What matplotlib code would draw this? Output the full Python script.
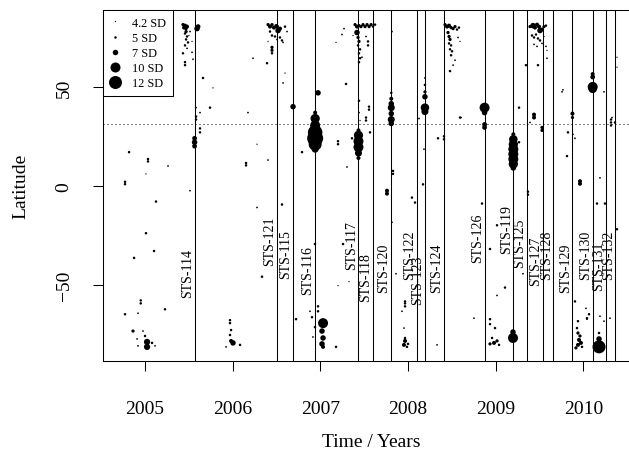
import numpy as np
import matplotlib
matplotlib.use("Agg")
import matplotlib.pyplot as plt
from matplotlib.lines import Line2D

plt.rcParams['font.family'] = ['Liberation Serif', 'DejaVu Serif']

# Shuttle launches (decimal years) and latitude where each label starts
launch_names = ["STS-114", "STS-121", "STS-115", "STS-116", "STS-117", "STS-118",
                "STS-120", "STS-122", "STS-123", "STS-124", "STS-126", "STS-119",
                "STS-125", "STS-127", "STS-128", "STS-129", "STS-130", "STS-131",
                "STS-132"]
launch_years = [2005.565, 2006.505, 2006.688, 2006.940, 2007.434, 2007.601,
                2007.808, 2008.102, 2008.192, 2008.413, 2008.872, 2009.200,
                2009.356, 2009.534, 2009.658, 2009.874, 2010.105, 2010.258,
                2010.365]
label_lat = [-56.5, -40, -46.5, -55, -42, -58.5, -53.5, -47, -60, -54, -38.5,
             -34, -41, -50, -47, -53.5, -47, -52.5, -47]

threshold_lat = 31.3

# Detections in the northern high-latitude clusters: (year, latitude, SD)
north = [
    (2005.433, 81.5, 5.5), (2005.445, 80.0, 6), (2005.456, 81.0, 6), (2005.468, 79.5, 5.5),
    (2005.479, 80.5, 6), (2005.468, 78.0, 5.5), (2005.456, 77.0, 5), (2005.479, 75.5, 5),
    (2005.468, 74.0, 5), (2005.490, 72.5, 5), (2005.456, 71.0, 5), (2005.479, 69.5, 4.5),
    (2005.433, 67.0, 5), (2005.536, 67.5, 4.5), (2005.456, 62.5, 5), (2005.456, 61.0, 5),
    (2005.547, 64.0, 4.5), (2005.593, 79.5, 7), (2005.605, 80.5, 6.5), (2005.513, 78.0, 4.5),
    (2005.500, 76.0, 4.2), (2005.536, 73.0, 4.2),
    (2006.403, 81.5, 5.5), (2006.425, 80.5, 6), (2006.448, 81.5, 5.5), (2006.470, 80.0, 6),
    (2006.494, 81.0, 5.5), (2006.517, 78.5, 7), (2006.505, 80.5, 6), (2006.539, 79.5, 6),
    (2006.425, 78.0, 5), (2006.448, 76.0, 5), (2006.482, 75.5, 5), (2006.539, 75.0, 5),
    (2006.562, 73.5, 5), (2006.574, 72.5, 4.5), (2006.448, 70.0, 5.5), (2006.448, 68.5, 5.5),
    (2006.448, 67.0, 5), (2006.596, 80.5, 5), (2006.619, 78.0, 4.5), (2006.505, 74.0, 4.5),
    (2006.403, 73.0, 4.2), (2006.596, 57.0, 4.2),
    (2007.395, 81.5, 5.5), (2007.417, 80.5, 6), (2007.440, 81.0, 5.5), (2007.463, 80.5, 5.5),
    (2007.486, 81.5, 5.5), (2007.509, 80.5, 5.5), (2007.532, 81.5, 5.5), (2007.555, 80.5, 5.5),
    (2007.578, 81.5, 5.5), (2007.600, 80.5, 5), (2007.623, 81.5, 5), (2007.417, 77.5, 7),
    (2007.429, 75.0, 5.5), (2007.440, 73.0, 5.5), (2007.429, 71.0, 5), (2007.452, 69.0, 5),
    (2007.440, 67.0, 5), (2007.452, 64.5, 5), (2007.440, 62.5, 5), (2007.543, 73.0, 5),
    (2007.543, 71.0, 5), (2007.520, 75.5, 4.5), (2007.474, 65.0, 4.5), (2007.372, 76.0, 4.2),
    (2008.421, 81.5, 5.5), (2008.444, 80.5, 6), (2008.467, 81.0, 6), (2008.490, 80.0, 5.5),
    (2008.513, 79.5, 5.5), (2008.535, 80.5, 5.5), (2008.558, 79.0, 5), (2008.580, 80.0, 5),
    (2008.455, 77.5, 5.5), (2008.467, 75.5, 5.5), (2008.478, 74.0, 5.5), (2008.467, 72.0, 5),
    (2008.490, 71.0, 5), (2008.478, 69.0, 5), (2008.501, 68.0, 5), (2008.490, 66.0, 5),
    (2008.535, 63.5, 4.5), (2008.513, 61.0, 4.5), (2008.478, 58.0, 5), (2008.569, 75.0, 4.5),
    (2008.592, 73.0, 4.2),
    (2009.390, 80.5, 5.5), (2009.424, 81.0, 7), (2009.447, 80.0, 6), (2009.470, 81.5, 6),
    (2009.493, 80.5, 6), (2009.504, 78.5, 7), (2009.527, 79.0, 6), (2009.550, 80.5, 5.5),
    (2009.572, 81.0, 5), (2009.413, 76.0, 5), (2009.436, 75.0, 5), (2009.458, 76.5, 5),
    (2009.481, 74.5, 5), (2009.504, 73.5, 5), (2009.436, 71.5, 4.5), (2009.470, 70.5, 4.5),
    (2009.527, 72.0, 4.5), (2009.572, 70.5, 4.5), (2009.550, 75.5, 4.2), (2009.584, 68.5, 4.2),
    (2005.661, 54.5, 5), (2005.741, 39.5, 5), (2005.775, 49.5, 4.2), (2006.231, 64.5, 4.5),
    (2006.391, 62.0, 5), (2006.574, 52.0, 4.5), (2007.269, 79.5, 4.5), (2007.246, 76.5, 4.5),
    (2007.178, 72.5, 4.2), (2007.816, 78.0, 4.5), (2009.344, 61.0, 5), (2009.481, 61.0, 5),
    (2009.584, 64.5, 4.5), (2009.755, 47.5, 4.5), (2010.234, 47.5, 4.5), (2010.382, 65.0, 4.2),
    (2010.382, 60.0, 4.2),
]

# Strong detections lined up with launches
mid = [
    (2005.565, 24.0, 6.5), (2005.565, 22.0, 7), (2005.565, 20.0, 6.5),
    (2006.688, 40.0, 7),
    (2006.940, 37.0, 6), (2006.940, 34.0, 9.5), (2006.940, 30.5, 10), (2006.940, 27.0, 13),
    (2006.940, 24.0, 14), (2006.940, 21.0, 12), (2006.940, 18.5, 8), (2006.973, 47.0, 7),
    (2007.434, 28.0, 6), (2007.434, 25.5, 9.5), (2007.434, 22.5, 10), (2007.434, 19.5, 10),
    (2007.434, 16.5, 8), (2007.434, 14.0, 6),
    (2007.440, 43.0, 5), (2007.440, 37.0, 4.5), (2007.452, 33.0, 4.2),
    (2007.808, 47.0, 5), (2007.808, 44.0, 6), (2007.808, 41.5, 7), (2007.808, 39.5, 8),
    (2007.808, 36.5, 7), (2007.808, 33.5, 8), (2007.808, 31.5, 7),
    (2008.192, 54.5, 4.5), (2008.192, 51.0, 5), (2008.192, 47.5, 5.5), (2008.192, 45.0, 7),
    (2008.192, 39.5, 9), (2008.192, 37.5, 8),
    (2008.872, 39.5, 10), (2008.872, 37.0, 7), (2008.872, 31.0, 6.5), (2008.872, 29.5, 6.5),
    (2009.200, 26.0, 6), (2009.200, 23.5, 9), (2009.200, 21.0, 9.5), (2009.200, 18.5, 10),
    (2009.200, 16.0, 10), (2009.200, 13.5, 10), (2009.200, 11.0, 9.5), (2009.200, 9.0, 7),
    (2009.874, 36.5, 6), (2009.874, 34.5, 5.5),
    (2010.105, 56.5, 6), (2010.105, 55.0, 6.5), (2010.105, 50.0, 10), (2010.105, 49.0, 9),
]

# Scattered weaker detections
scatter_pts = [
    (2004.818, 17.0, 5), (2005.034, 13.5, 5), (2005.034, 12.3, 5), (2005.262, 10.0, 4.5),
    (2005.011, 6.0, 4.2), (2006.152, 11.5, 5), (2006.152, 10.3, 5), (2006.174, 37.0, 4.5),
    (2006.277, 21.0, 4.2), (2006.403, 13.0, 4.5), (2005.582, 35.0, 5), (2005.582, 33.5, 5),
    (2005.627, 29.0, 5), (2005.627, 27.0, 5), (2005.582, 39.5, 4.5), (2005.627, 37.0, 4.5),
    (2007.292, 51.5, 5), (2007.554, 40.0, 5), (2007.554, 38.5, 5), (2007.520, 34.5, 5),
    (2007.520, 33.0, 5), (2007.566, 27.0, 5), (2007.201, 22.5, 5), (2007.201, 21.0, 5),
    (2007.360, 24.0, 5), (2007.303, 9.5, 4.5), (2006.790, 17.0, 5), (2007.828, 7.5, 5),
    (2007.828, 6.0, 5), (2008.341, 24.0, 5), (2008.409, 25.0, 5), (2008.409, 23.5, 5),
    (2008.124, 34.0, 4.5), (2008.181, 18.5, 4.5), (2008.592, 34.5, 5), (2009.265, 39.5, 5),
    (2009.436, 36.0, 6), (2009.436, 34.5, 6), (2009.390, 32.0, 4.5), (2009.527, 29.5, 5.5),
    (2009.527, 28.0, 5.5), (2009.823, 27.0, 5), (2009.903, 24.0, 4.5), (2009.812, 15.0, 5),
    (2009.766, 48.5, 4.5), (2009.880, 26.0, 4.5), (2009.960, 2.3, 6), (2009.960, 1.0, 6),
    (2010.188, 4.0, 4.5), (2010.314, 33.5, 5), (2010.314, 32.0, 5), (2010.314, 30.5, 5),
    (2010.359, 32.0, 5), (2010.325, 34.5, 4.5), (2008.603, 34.5, 4.5), (2009.265, 22.0, 5),
    (2004.772, 2.0, 5), (2004.772, 0.8, 5), (2005.125, -8.0, 5), (2005.011, -24.0, 5),
    (2005.103, -33.0, 5), (2004.875, -36.5, 5), (2005.513, -2.5, 4.5), (2006.277, -11.0, 4.5),
    (2006.334, -46.0, 5), (2006.562, -9.5, 5), (2006.722, -67.5, 5), (2007.258, -29.5, 5),
    (2007.201, -50.5, 4.2), (2007.326, -48.5, 4.2), (2007.759, -2.5, 6), (2007.759, -4.0, 6),
    (2008.044, -6.0, 5), (2008.079, -8.5, 5), (2007.862, -44.5, 4.5), (2007.965, -59.5, 5),
    (2007.965, -61.0, 5), (2007.816, -18.5, 4.5), (2008.170, 0.7, 5), (2008.330, -80.5, 4.5),
    (2006.938, -29.5, 5), (2008.843, -9.0, 5), (2009.014, -20.0, 5), (2008.934, -32.0, 5),
    (2009.105, -51.5, 5), (2009.014, -55.5, 4.5), (2008.751, -67.0, 4.5), (2009.367, -3.0, 5),
    (2009.367, -4.5, 5), (2009.310, -44.5, 4.5), (2010.154, -9.0, 5), (2010.245, -9.0, 5),
    (2010.382, -22.0, 5), (2010.040, -67.0, 5),
]

# Southern high-latitude clusters
south = [
    (2004.951, -58.0, 5), (2004.951, -59.5, 5), (2004.772, -65.0, 5), (2004.920, -64.5, 4.5),
    (2005.228, -62.5, 5), (2004.863, -73.5, 5.5), (2004.977, -73.5, 4.5), (2004.909, -77.5, 4.5),
    (2005.000, -76.0, 5), (2005.023, -79.0, 7.5), (2005.023, -81.5, 7.5), (2005.080, -79.5, 5),
    (2005.114, -81.0, 4.5), (2004.920, -81.0, 4.5),
    (2005.969, -68.0, 5), (2005.969, -69.5, 5), (2005.981, -73.0, 5), (2005.969, -75.5, 5),
    (2005.981, -78.5, 6), (2006.003, -79.5, 7), (2005.924, -81.5, 4.5), (2006.083, -80.5, 5),
    (2007.030, -69.5, 10), (2007.018, -73.5, 7), (2007.030, -77.0, 7), (2007.018, -80.0, 7),
    (2007.030, -81.5, 6), (2006.904, -66.5, 5), (2006.881, -63.5, 4.5), (2006.973, -61.0, 5),
    (2006.973, -63.5, 5), (2006.938, -71.5, 5), (2007.178, -81.5, 5), (2006.915, -76.5, 4.5),
    (2007.965, -58.5, 5), (2007.930, -63.5, 4.5), (2007.953, -72.0, 4.5), (2007.965, -77.0, 5),
    (2007.965, -78.5, 6), (2007.953, -80.5, 6), (2007.999, -80.0, 5), (2007.987, -81.5, 5),
    (2008.934, -67.5, 5), (2008.934, -70.0, 5), (2008.991, -72.0, 5), (2008.957, -77.0, 5),
    (2008.934, -80.0, 5.5), (2008.980, -79.5, 6), (2009.014, -78.5, 5.5), (2009.037, -80.5, 5),
    (2009.196, -74.0, 7), (2009.196, -77.0, 10),
    (2009.937, -68.5, 5), (2009.926, -72.0, 5), (2009.937, -74.5, 5.5), (2009.960, -76.0, 5.5),
    (2009.949, -78.0, 6), (2009.971, -79.5, 6), (2009.937, -80.5, 6), (2009.914, -82.0, 5.5),
    (2009.983, -81.5, 5), (2009.903, -58.5, 5), (2010.028, -62.0, 4.5), (2010.063, -65.0, 5),
    (2010.040, -67.5, 4.5), (2010.188, -66.0, 4.5), (2010.234, -68.5, 4.5), (2010.302, -67.0, 4.5),
    (2010.177, -81.5, 12), (2010.177, -77.5, 7), (2010.177, -74.5, 5),
]

legend_sd = [4.2, 5, 7, 10, 12]


def marker_px(sd):
    # marker diameter in pixels grows with detection strength
    return 1.0 + 1.5 * (np.asarray(sd, dtype=float) - 4.0)


fig = plt.figure(figsize=(6.29, 4.56), dpi=100)
ax = fig.add_axes([102.5 / 629, 1 - 361.7 / 456, 526.5 / 629, (361.7 - 11) / 456])

pts = np.array(north + mid + scatter_pts + south)
sizes = (marker_px(pts[:, 2]) * 0.72) ** 2
ax.scatter(pts[:, 0], pts[:, 1], s=sizes, c="black", linewidths=0, zorder=3)

for name, yr, ly in zip(launch_names, launch_years, label_lat):
    ax.axvline(yr, color="black", lw=0.75, zorder=2)
    ax.text(yr - 0.008, ly, name, rotation=90, ha="right", va="bottom",
            fontsize=10, zorder=4)

ax.axhline(threshold_lat, color="black", lw=0.72, ls=(0, (1, 3)), zorder=1)

ax.set_xlim(2004.515, 2010.519)
ax.set_ylim(-88.5, 88.9)
ax.set_xticks([2005, 2006, 2007, 2008, 2009, 2010])
ax.set_yticks([-50, 0, 50])
ax.tick_params(axis="both", length=7.5, width=0.75, labelsize=14)
ax.tick_params(axis="x", pad=21)
ax.tick_params(axis="y", pad=14)
for lab in ax.get_yticklabels():
    lab.set_rotation(90)
    lab.set_va("center")
for side in ["left", "bottom", "top"]:
    ax.spines[side].set_linewidth(0.75)
ax.spines["right"].set_visible(False)

fig.text(371 / 629, 1 - 443 / 456, "Time / Years", ha="center", va="center", fontsize=14)
fig.text(21 / 629, 1 - 186.5 / 456, "Latitude", ha="center", va="center",
         rotation=90, fontsize=14)

handles = [Line2D([], [], marker="o", ls="", color="black", markeredgewidth=0,
                  markersize=float(marker_px(sd)) * 0.72) for sd in legend_sd]
labels = [f"{sd:g} SD" for sd in legend_sd]
leg = ax.legend(handles, labels, loc="upper left", bbox_to_anchor=(0, 1),
                borderaxespad=0, fontsize=8.8, fancybox=False, framealpha=1,
                edgecolor="black", handlelength=1.0, handletextpad=0.9,
                labelspacing=0.25, borderpad=0.55)
leg.get_frame().set_linewidth(0.75)
leg.set_zorder(5)

fig.savefig("out.png", dpi=100)
